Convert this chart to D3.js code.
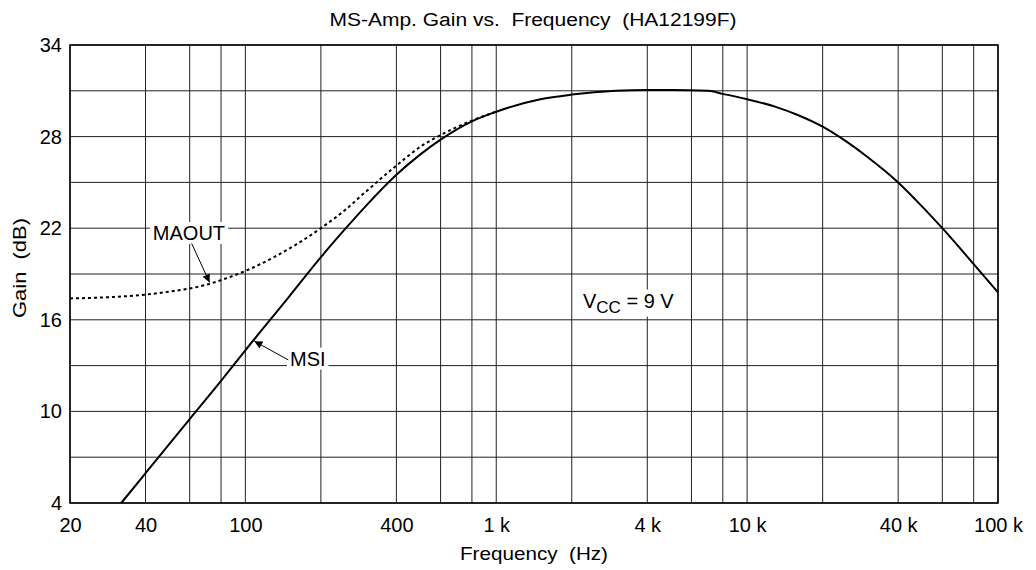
<!DOCTYPE html>
<html>
<head>
<meta charset="utf-8">
<script src="https://cdn.jsdelivr.net/npm/d3@7"></script>
<style>
  html, body { margin: 0; padding: 0; background: #fff; }
  svg text { font-family: "Liberation Sans", Arial, Helvetica, sans-serif; white-space: pre; fill: #000; }
</style>
</head>
<body>
<svg id="chart" width="1036" height="570"></svg>
<script>
// ---- data ----
const title = "MS-Amp. Gain vs.  Frequency  (HA12199F)";
const xLabel = "Frequency  (Hz)";
const yLabel = "Gain  (dB)";

const xGridValues = [20, 40, 60, 80, 100, 200, 400, 600, 800, 1000, 2000, 4000, 6000, 8000, 10000, 20000, 40000, 60000, 80000, 100000];
const xTickValues = [20, 40, 100, 400, 1000, 4000, 10000, 40000, 100000];
const xTickLabels = ["20", "40", "100", "400", "1 k", "4 k", "10 k", "40 k", "100 k"];
const yGridValues = [4, 7, 10, 13, 16, 19, 22, 25, 28, 31, 34];
const yTickValues = [4, 10, 16, 22, 28, 34];

const msiFreq = [32, 40, 50, 60, 80, 100, 150, 200, 250, 300, 400, 500, 600, 800, 1000, 1500, 2000, 3000, 4000, 5000, 7000, 8000, 10000, 13000, 16000, 20000, 25000, 30000, 40000, 50000, 60000, 80000, 100000];
const msiGain = [4.0, 5.95, 7.9, 9.5, 12.0, 14.0, 17.55, 20.1, 21.95, 23.4, 25.5, 26.85, 27.8, 29.0, 29.63, 30.45, 30.75, 31.0, 31.05, 31.05, 31.0, 30.8, 30.45, 29.95, 29.4, 28.65, 27.65, 26.7, 25.0, 23.4, 22.0, 19.65, 17.8];

const maoutFreq = [20, 30, 40, 50, 60, 70, 80, 100, 130, 160, 200, 250, 300, 400, 500, 600, 800, 1000];
const maoutGain = [17.4, 17.5, 17.65, 17.85, 18.05, 18.3, 18.6, 19.2, 20.1, 20.95, 22.0, 23.2, 24.35, 26.1, 27.35, 28.1, 29.05, 29.63];

// annotation anchors in data space: [freq, gain]
const maoutLabelAt = [59.6, 21.23];
const maoutArrowFrom = [61.1, 21.0];
const maoutArrowTo = [72, 18.45];
const msiLabelAt = [150.6, 13.0];
const msiArrowFrom = [148.3, 13.37];
const msiArrowTo = [108.6, 14.6];
const vccLabelAt = [2217, 16.8];

// ---- layout ----
const mLeft = 70, mRight = 998, mTop = 45, mBottom = 503;
const svg = d3.select("#chart");
const x = d3.scaleLog().domain([20, 100000]).range([mLeft, mRight]);
const y = d3.scaleLinear().domain([4, 34]).range([mBottom, mTop]);

// grid
const grid = svg.append("g").attr("stroke", "#222").attr("stroke-width", 1);
grid.selectAll("line.v").data(xGridValues).join("line").attr("class", "v")
  .attr("x1", d => x(d)).attr("x2", d => x(d)).attr("y1", mTop).attr("y2", mBottom);
grid.selectAll("line.h").data(yGridValues).join("line").attr("class", "h")
  .attr("x1", mLeft).attr("x2", mRight).attr("y1", d => y(d)).attr("y2", d => y(d));

// curves
const line = d3.line().x(d => x(d[0])).y(d => y(d[1])).curve(d3.curveMonotoneX);
svg.append("path").datum(d3.zip(maoutFreq, maoutGain)).attr("d", line)
  .attr("fill", "none").attr("stroke", "#000").attr("stroke-width", 2).attr("stroke-dasharray", "3,3");
svg.append("path").datum(d3.zip(msiFreq, msiGain)).attr("d", line)
  .attr("fill", "none").attr("stroke", "#000").attr("stroke-width", 2);

// frame
svg.append("rect").attr("x", mLeft).attr("y", mTop).attr("width", mRight - mLeft).attr("height", mBottom - mTop)
  .attr("fill", "none").attr("stroke", "#000").attr("stroke-width", 1.5);

// axes
const xAxis = d3.axisBottom(x).tickValues(xTickValues)
  .tickFormat((d, i) => xTickLabels[i]).tickSize(0).tickPadding(15);
const gx = svg.append("g").attr("transform", `translate(0,${mBottom})`).call(xAxis);
gx.select(".domain").remove();
gx.selectAll("text").attr("font-size", 20).attr("fill", "#000")
  .style("font-family", '"Liberation Sans", Arial, sans-serif');

const yAxis = d3.axisLeft(y).tickValues(yTickValues).tickFormat(d3.format("d")).tickSize(0).tickPadding(8);
const gy = svg.append("g").attr("transform", `translate(${mLeft},0)`).call(yAxis);
gy.select(".domain").remove();
gy.selectAll("text").attr("font-size", 20).attr("fill", "#000")
  .style("font-family", '"Liberation Sans", Arial, sans-serif');

// titles
svg.append("text").attr("x", 533).attr("y", 26).attr("text-anchor", "middle")
  .attr("font-size", 18).attr("textLength", 407).attr("lengthAdjust", "spacingAndGlyphs").text(title);
svg.append("text").attr("x", 534).attr("y", 560).attr("text-anchor", "middle")
  .attr("font-size", 19).attr("textLength", 148).attr("lengthAdjust", "spacingAndGlyphs").text(xLabel);
svg.append("text").attr("transform", "translate(26,268) rotate(-90)").attr("text-anchor", "middle")
  .attr("font-size", 19).attr("textLength", 100).attr("lengthAdjust", "spacingAndGlyphs").text(yLabel);

// arrow marker
svg.append("defs").append("marker").attr("id", "ah")
  .attr("viewBox", "0 0 10 10").attr("refX", 10).attr("refY", 5)
  .attr("markerWidth", 11).attr("markerHeight", 8).attr("markerUnits", "userSpaceOnUse")
  .attr("orient", "auto")
  .append("path").attr("d", "M0,0 L10,5 L0,10 Z").attr("fill", "#000");

function boxedLabel(g, pad) {
  const bb = g.select("text").node().getBBox();
  g.insert("rect", "text").attr("x", bb.x - pad[0]).attr("y", bb.y - pad[1])
    .attr("width", bb.width + 2 * pad[0]).attr("height", bb.height + 2 * pad[1]).attr("fill", "#fff");
}

// MAOUT annotation
const gMa = svg.append("g");
gMa.append("text").attr("x", x(maoutLabelAt[0])).attr("y", y(maoutLabelAt[1]))
  .attr("text-anchor", "middle").attr("font-size", 20).text("MAOUT");
boxedLabel(gMa, [3, 0]);
svg.append("line").attr("x1", x(maoutArrowFrom[0])).attr("y1", y(maoutArrowFrom[1]))
  .attr("x2", x(maoutArrowTo[0])).attr("y2", y(maoutArrowTo[1]))
  .attr("stroke", "#000").attr("stroke-width", 1).attr("marker-end", "url(#ah)");

// MSI annotation
const gMs = svg.append("g");
gMs.append("text").attr("x", x(msiLabelAt[0])).attr("y", y(msiLabelAt[1]))
  .attr("text-anchor", "start").attr("font-size", 20).text("MSI");
boxedLabel(gMs, [3, 0]);
svg.append("line").attr("x1", x(msiArrowFrom[0])).attr("y1", y(msiArrowFrom[1]))
  .attr("x2", x(msiArrowTo[0])).attr("y2", y(msiArrowTo[1]))
  .attr("stroke", "#000").attr("stroke-width", 1).attr("marker-end", "url(#ah)");

// VCC annotation
const gV = svg.append("g");
const vt = gV.append("text").attr("x", x(vccLabelAt[0])).attr("y", y(vccLabelAt[1])).attr("font-size", 20);
vt.append("tspan").text("V");
vt.append("tspan").attr("font-size", 17).attr("dy", 5).text("CC");
vt.append("tspan").attr("dy", -5).text(" = 9 V");
boxedLabel(gV, [4, 0]);
</script>
</body>
</html>
